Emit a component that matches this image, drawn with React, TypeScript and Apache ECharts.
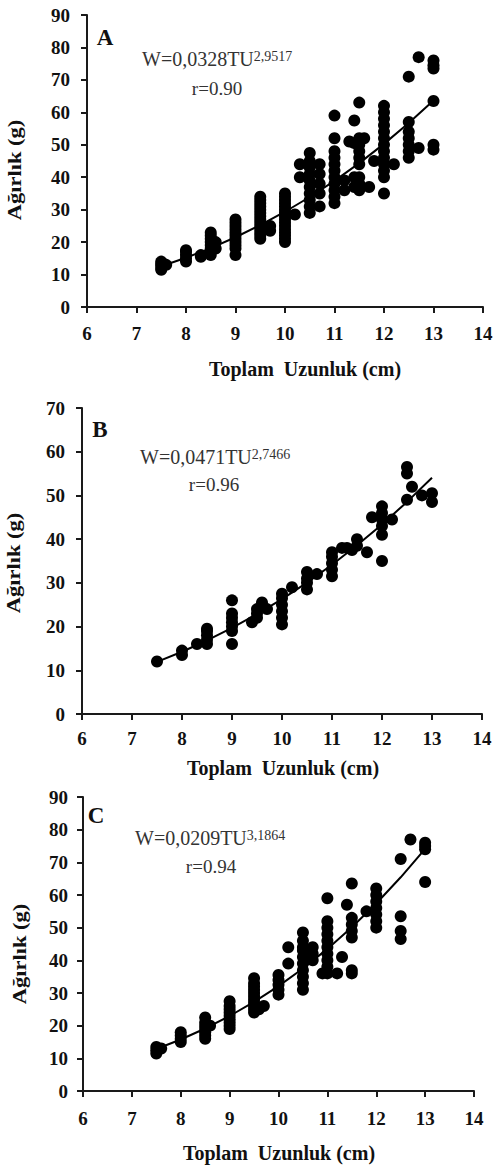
import React, { useEffect, useRef } from 'react';
import * as echarts from 'echarts';

// ---------- data ----------
const xTickMin = 6;
const xTickMax = 14;
const yMaxA = 90;
const yMaxB = 70;
const yMaxC = 90;

const panelLetters = ['A', 'B', 'C'];
const eqMain = ['W=0,0328TU', 'W=0,0471TU', 'W=0,0209TU'];
const eqExp = ['2,9517', '2,7466', '3,1864'];
const eqR = ['r=0.90', 'r=0.96', 'r=0.94'];
const xTitle = 'Toplam  Uzunluk (cm)';
const yTitle = 'Ağırlık (g)';

const pointsA: [number, number][] = [
  [7.5, 11.5], [7.5, 12], [7.5, 12.8], [7.5, 13.3], [7.5, 14], [7.6, 13],
  [8, 14], [8, 15], [8, 16], [8, 17], [8, 17.5],
  [8.3, 15.5], [8.3, 16],
  [8.5, 16], [8.5, 17], [8.5, 18], [8.5, 19], [8.5, 20], [8.5, 21], [8.5, 22], [8.5, 23],
  [8.6, 18], [8.6, 20],
  [9, 16], [9, 18], [9, 19], [9, 20], [9, 21], [9, 22], [9, 23], [9, 24], [9, 25], [9, 26], [9, 27],
  [9.5, 21], [9.5, 22], [9.5, 23], [9.5, 24], [9.5, 25], [9.5, 26], [9.5, 27], [9.5, 28], [9.5, 29],
  [9.5, 30], [9.5, 31], [9.5, 32], [9.5, 33], [9.5, 34],
  [9.7, 23.5], [9.7, 25],
  [10, 20], [10, 21], [10, 22], [10, 23], [10, 24], [10, 25], [10, 26], [10, 27], [10, 28], [10, 29],
  [10, 30], [10, 31], [10, 32], [10, 33], [10, 34], [10, 35],
  [10.2, 28.5], [10.3, 40], [10.3, 44],
  [10.5, 29], [10.5, 31], [10.5, 33], [10.5, 35], [10.5, 37], [10.5, 39], [10.5, 41], [10.5, 43], [10.5, 45], [10.5, 47.5],
  [10.7, 31], [10.7, 35], [10.7, 38], [10.7, 41], [10.7, 44],
  [11, 32], [11, 34], [11, 36], [11, 38], [11, 40], [11, 42], [11, 44], [11, 46], [11, 48], [11, 52], [11, 59],
  [11.2, 36], [11.2, 39],
  [11.3, 51], [11.4, 57.5], [11.4, 50.5], [11.4, 40], [11.4, 37], [11.6, 52],
  [11.5, 63], [11.5, 52], [11.5, 50], [11.5, 48], [11.5, 46], [11.5, 44], [11.5, 40], [11.5, 38], [11.5, 36],
  [11.7, 37], [11.8, 45],
  [12, 35], [12, 40], [12, 42], [12, 44], [12, 46], [12, 48], [12, 50], [12, 52], [12, 54], [12, 56], [12, 58], [12, 60], [12, 62],
  [12.2, 44],
  [12.5, 71], [12.5, 57], [12.5, 54], [12.5, 52], [12.5, 50], [12.5, 48], [12.5, 46],
  [12.7, 77], [12.7, 49],
  [13, 76], [13, 74.5], [13, 73.5], [13, 63.5], [13, 50], [13, 48.5],
];

const pointsB: [number, number][] = [
  [7.5, 12],
  [8, 13.5], [8, 14.5],
  [8.3, 16],
  [8.5, 16], [8.5, 17], [8.5, 18], [8.5, 19], [8.5, 19.5],
  [9, 16], [9, 19], [9, 20], [9, 21], [9, 22], [9, 23], [9, 26],
  [9.4, 21], [9.5, 22], [9.5, 23], [9.5, 24], [9.6, 25.5], [9.7, 24],
  [10, 20.5], [10, 22], [10, 23.5], [10, 25], [10, 26.5], [10, 27.5],
  [10.2, 29],
  [10.5, 28.5], [10.5, 30], [10.5, 31], [10.5, 32.5],
  [10.7, 32],
  [11, 31.5], [11, 33], [11, 34.5], [11, 36], [11, 37],
  [11.2, 38], [11.3, 38], [11.4, 37.5], [11.5, 40], [11.5, 38.5],
  [11.7, 37], [11.8, 45],
  [12, 35], [12, 41], [12, 43], [12, 44.5], [12, 46], [12, 47.5],
  [12.2, 44.5],
  [12.5, 56.5], [12.5, 55], [12.5, 49],
  [12.6, 52], [12.8, 50],
  [13, 50.5], [13, 48.5],
];

const pointsC: [number, number][] = [
  [7.5, 11.5], [7.5, 12.5], [7.5, 13.5], [7.6, 13],
  [8, 15], [8, 16], [8, 17], [8, 18],
  [8.5, 16], [8.5, 17], [8.5, 18], [8.5, 19], [8.5, 20], [8.5, 21], [8.5, 22.5], [8.6, 20],
  [9, 19], [9, 20], [9, 21], [9, 22], [9, 23], [9, 24], [9, 25], [9, 26], [9, 27.5],
  [9.5, 24], [9.5, 25], [9.5, 26], [9.5, 27], [9.5, 28], [9.5, 29], [9.5, 30], [9.5, 31], [9.5, 32],
  [9.5, 33], [9.5, 34.5],
  [9.6, 25], [9.7, 26],
  [10, 29.5], [10, 31], [10, 32.5], [10, 34], [10, 35.5],
  [10.2, 44], [10.2, 39],
  [10.5, 31], [10.5, 33], [10.5, 35], [10.5, 37], [10.5, 39], [10.5, 41], [10.5, 43], [10.5, 44], [10.5, 46], [10.5, 48.5],
  [10.7, 40], [10.7, 42], [10.7, 44],
  [11, 36], [11, 38], [11, 40], [11, 42], [11, 44], [11, 46], [11, 48], [11, 50], [11, 52], [11, 59],
  [10.9, 36], [11.2, 36],
  [11.3, 41], [11.4, 57], [11.5, 37], [11.5, 36],
  [11.5, 63.5], [11.5, 53], [11.5, 51], [11.5, 49], [11.5, 47],
  [11.8, 55],
  [12, 50], [12, 52], [12, 54], [12, 56], [12, 58], [12, 60], [12, 62],
  [12.5, 71], [12.5, 53.5], [12.5, 49], [12.5, 46.5],
  [12.7, 77],
  [13, 76], [13, 75], [13, 74], [13, 64],
];

// fitted curves (W = a·TU^b), read at half-cm steps
const fitA: [number, number][] = [
  [7.5, 12.55], [8, 15.19], [8.5, 18.16], [9, 21.5], [9.5, 25.23], [10, 29.36],
  [10.5, 33.9], [11, 38.89], [11.5, 44.34], [12, 50.28], [12.5, 56.71], [13, 63.68],
];
const fitB: [number, number][] = [
  [7.5, 11.93], [8, 14.24], [8.5, 16.82], [9, 19.68], [9.5, 22.84], [10, 26.28],
  [10.5, 30.05], [11, 34.14], [11.5, 38.59], [12, 43.37], [12.5, 48.52], [13, 54.04],
];
const fitC: [number, number][] = [
  [7.5, 12.84], [8, 15.77], [8.5, 19.14], [9, 22.96], [9.5, 27.27], [10, 32.11],
  [10.5, 37.51], [11, 43.5], [11.5, 50.13], [12, 57.41], [12.5, 65.42], [13, 74.1],
];

// ---------- layout ----------
const SERIF = "'Liberation Serif', 'Times New Roman', serif";
const grids = [
  { left: 87, top: 15, width: 396, height: 292 },
  { left: 82, top: 408, width: 400, height: 306 },
  { left: 83, top: 797, width: 391, height: 294 },
];
const xLabelMargin = [17, 15, 18];
const yLabelMargin = [17, 17, 15];
const letterPos = [[105, 37], [100, 429], [96, 815]];
const eqPos = [[142, 59], [140, 457], [135, 838]];
const rPos = [[217, 88], [214, 484], [211, 866]];
const xTitlePos = [[305, 369], [283, 768], [279, 1153]];
const yTitlePos = [[15, 170], [14, 563], [20, 954]];

export default function App() {
  const ref = useRef<HTMLDivElement>(null);
  useEffect(() => {
    if (!ref.current) return;
    const chart = echarts.init(ref.current, undefined, { renderer: 'svg' });
    const yMaxes = [yMaxA, yMaxB, yMaxC];
    const pts = [pointsA, pointsB, pointsC];
    const fits = [fitA, fitB, fitC];
    const axisLine = { show: true, lineStyle: { color: '#1a1a1a', width: 2 } };
    const axisTick = { show: true, inside: false, length: 6, lineStyle: { color: '#1a1a1a', width: 2 } };

    const graphics: any[] = [];
    for (let i = 0; i < 3; i++) {
      graphics.push({
        type: 'text', x: letterPos[i][0], y: letterPos[i][1],
        style: { text: panelLetters[i], fontFamily: SERIF, fontWeight: 'bold', fontSize: 23, fill: '#111', align: 'center', verticalAlign: 'middle' },
      });
      graphics.push({
        type: 'text', x: eqPos[i][0], y: eqPos[i][1],
        style: {
          text: `{m|${eqMain[i]}}{s|${eqExp[i]}}`,
          align: 'left', verticalAlign: 'middle',
          rich: {
            m: { fontFamily: SERIF, fontSize: 20, fill: '#333', lineHeight: 20 },
            s: { fontFamily: SERIF, fontSize: 14, fill: '#333', verticalAlign: 'top', lineHeight: 14 },
          },
        },
      });
      graphics.push({
        type: 'text', x: rPos[i][0], y: rPos[i][1],
        style: { text: eqR[i], fontFamily: SERIF, fontSize: 19, fill: '#333', align: 'center', verticalAlign: 'middle' },
      });
      graphics.push({
        type: 'text', x: xTitlePos[i][0], y: xTitlePos[i][1],
        style: { text: xTitle, fontFamily: SERIF, fontWeight: 'bold', fontSize: 20, fill: '#111', align: 'center', verticalAlign: 'middle' },
      });
      graphics.push({
        type: 'text', x: yTitlePos[i][0], y: yTitlePos[i][1], rotation: Math.PI / 2, scaleX: 1.25,
        style: { text: yTitle, fontFamily: SERIF, fontWeight: 'bold', fontSize: 18, fill: '#111', align: 'center', verticalAlign: 'middle' },
      });
    }

    chart.setOption({
      animation: false,
      backgroundColor: '#ffffff',
      grid: grids.map((g) => ({ ...g, containLabel: false })),
      xAxis: grids.map((_, i) => ({
        type: 'value', gridIndex: i, min: xTickMin, max: xTickMax, interval: 1,
        axisLine, axisTick, splitLine: { show: false },
        axisLabel: { margin: xLabelMargin[i], fontFamily: SERIF, fontWeight: 'bold', fontSize: 19, color: '#111' },
      })),
      yAxis: grids.map((_, i) => ({
        type: 'value', gridIndex: i, min: 0, max: yMaxes[i], interval: 10,
        axisLine, axisTick, splitLine: { show: false },
        axisLabel: { margin: yLabelMargin[i], fontFamily: SERIF, fontWeight: 'bold', fontSize: 19, color: '#111' },
      })),
      series: [
        ...pts.map((p, i) => ({
          type: 'scatter', xAxisIndex: i, yAxisIndex: i, data: p,
          symbol: 'circle', symbolSize: 12, itemStyle: { color: '#000', opacity: 1 },
          silent: true,
        })),
        ...fits.map((f, i) => ({
          type: 'line', xAxisIndex: i, yAxisIndex: i, data: f,
          showSymbol: false, smooth: false, lineStyle: { color: '#000', width: 2 },
          silent: true, z: 5,
        })),
      ],
      graphic: graphics,
    });
    return () => chart.dispose();
  }, []);

  return (
    <div
      ref={ref}
      style={{ position: 'absolute', left: 0, top: 0, width: 496, height: 1171, background: '#fff' }}
    />
  );
}
